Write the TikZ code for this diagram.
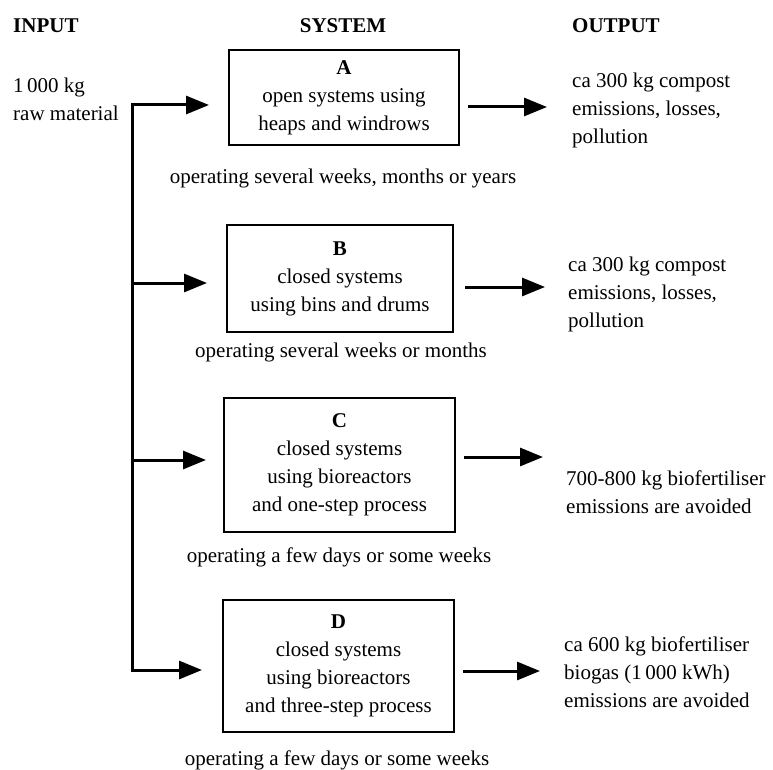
\documentclass[tikz,border=0pt]{standalone}
\usepackage{fontspec}
\setmainfont{Liberation Serif}
\usetikzlibrary{arrows.meta}
\begin{document}
\begin{tikzpicture}[x=1pt,y=-1pt,
  every node/.style={font=\fontsize{21}{28}\selectfont, inner sep=0pt},
  sysbox/.style={draw, line width=2pt, align=center, minimum width=230pt},
  outtxt/.style={anchor=west, align=left},
  head/.style={font=\fontsize{21}{28}\selectfont\bfseries},
  optxt/.style={align=center},
  arr/.style={line width=3pt, -{Triangle[length=23pt,width=18pt]}},
]
\useasboundingbox (0,0) rectangle (773,770);

% headings
\node[head, anchor=west] (hin) at (13,26) {INPUT};
\node[head] (hsys) at (343,26) {SYSTEM};
\node[head, anchor=west] (hout) at (572,26) {OUTPUT};

% input
\node[outtxt] (inp) at (13,99) {1\,000 kg\\raw material};

% boxes
\node[sysbox, minimum height=95pt] (A) at (344,97.5) {\textbf{A}\\open systems using\\heaps and windrows};
\node[sysbox, minimum width=226pt, minimum height=107pt] (B) at (340,278.5) {\textbf{B}\\closed systems\\using bins and drums};
\node[sysbox, minimum width=231pt, minimum height=134pt] (C) at (339.5,465) {\textbf{C}\\closed systems\\using bioreactors\\and one-step process};
\node[sysbox, minimum width=231pt, minimum height=132pt] (D) at (338.5,666) {\textbf{D}\\closed systems\\using bioreactors\\and three-step process};

% duration notes
\node[optxt] (opA) at (343,178) {operating several weeks, months or years};
\node[optxt] (opB) at (341,352) {operating several weeks or months};
\node[optxt] (opC) at (339,557) {operating a few days or some weeks};
\node[optxt] (opD) at (337,760) {operating a few days or some weeks};

% outputs
\node[outtxt] (oA) at (572,110) {ca 300 kg compost\\emissions, losses,\\pollution};
\node[outtxt] (oB) at (568,294) {ca 300 kg compost\\emissions, losses,\\pollution};
\node[outtxt] (oC) at (566,492) {700-800 kg biofertiliser\\emissions are avoided};
\node[outtxt] (oD) at (564,672) {ca 600 kg biofertiliser\\biogas (1\,000 kWh)\\emissions are avoided};

% junctions on the feed line
\coordinate (jA) at (132,105);
\coordinate (jB) at (132,283);
\coordinate (jC) at (132,460);
\coordinate (jD) at (132,670);

% output arrow levels
\coordinate (yA) at (0,107);
\coordinate (yB) at (0,287);
\coordinate (yC) at (0,457);
\coordinate (yD) at (0,671);

% input connectors
\draw[arr, shorten >=19pt] (jD) -- (jA) -- (A.west |- jA);
\draw[arr, shorten >=19pt] (jB) -- (B.west |- jB);
\draw[arr, shorten >=17pt] (jC) -- (C.west |- jC);
\draw[arr, shorten >=20pt] ([xshift=-1.5pt]jD) -- (D.west |- jD);

% output connectors
\draw[arr, shorten <=8pt, shorten >=25pt] (A.east |- yA) -- (oA.west |- yA);
\draw[arr, shorten <=11pt, shorten >=23pt] (B.east |- yB) -- (oB.west |- yB);
\draw[arr, shorten <=8pt, shorten >=23pt] (C.east |- yC) -- (oC.west |- yC);
\draw[arr, shorten <=8pt, shorten >=24pt] (D.east |- yD) -- (oD.west |- yD);
\end{tikzpicture}
\end{document}
